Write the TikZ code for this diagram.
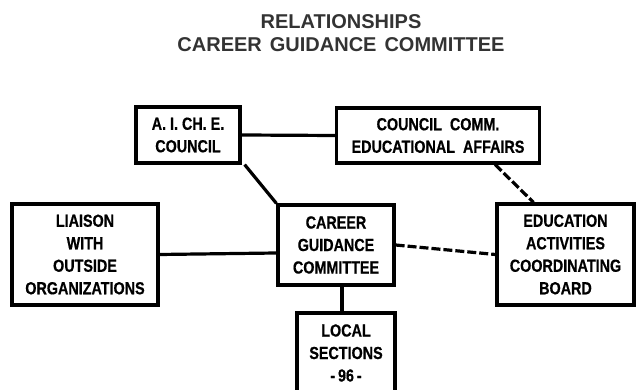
\documentclass[tikz,border=0pt]{standalone}
\usepackage{fontspec}
\usepackage{tikz}
\usetikzlibrary{positioning}
\newfontfamily\boxfont{Liberation Sans}[FakeStretch=0.82, FakeBold=0.6]
\newfontfamily\titlefont{Liberation Sans}

\begin{document}
\begin{tikzpicture}[x=1pt, y=1pt,
    unit/.style={draw, line width=3.2pt, inner sep=0pt, align=center,
        font=\boxfont\bfseries\fontsize{17.5}{22.5}\selectfont},
    link/.style={line width=3.2pt},
    loose/.style={line width=3.2pt, dash pattern=on 9pt off 3pt}]
    \useasboundingbox (0,0) rectangle (636,390);

    % Title
    \node (head) at (341,368) [font=\titlefont\bfseries\fontsize{20}{24}\selectfont, text=black!80] {RELATIONSHIPS};
    \node (subhead) at (341,345) [font=\titlefont\bfseries\fontsize{20}{24}\selectfont, text=black!80] {CAREER\hspace{8pt}GUIDANCE\hspace{8pt}COMMITTEE};

    % Nodes
    \node (aiche) at (188,255) [unit, minimum width=104pt, minimum height=56pt] {A. I. CH. E.\\COUNCIL};
    \node (ccea) at (438,254.5) [unit, minimum width=203pt, minimum height=55pt] {COUNCIL\hspace{8pt}COMM.\\EDUCATIONAL\hspace{8pt}AFFAIRS};
    \node (liaison) at (85,135.5) [unit, minimum width=146pt, minimum height=101pt] {LIAISON\\WITH\\OUTSIDE\\ORGANIZATIONS};
    \node (cgc) at (336,145) [unit, minimum width=116pt, minimum height=80pt] {CAREER\\GUIDANCE\\COMMITTEE};
    \node (eacb) at (565.5,135.5) [unit, minimum width=137pt, minimum height=101pt] {EDUCATION\\ACTIVITIES\\COORDINATING\\BOARD};
    \node (local) at (346,37) [unit, minimum width=98pt, minimum height=80pt] {LOCAL\\SECTIONS\\-\,96\,-};

    % Links
    \draw [link] (aiche.east) -- (ccea.west);
    \draw [link] ([xshift=3pt]aiche.south east) -- (cgc.north west);
    \draw [link] (liaison.east) -- ([yshift=-8pt]cgc.west);
    \draw [link] ([xshift=6pt]cgc.south) -- ([xshift=-4pt]local.north);

    % Loose ties
    \draw [loose] ([xshift=-46pt]ccea.south east) -- ([xshift=-32pt]eacb.north);
    \draw [loose] (cgc.east) -- (eacb.west);
\end{tikzpicture}
\end{document}
